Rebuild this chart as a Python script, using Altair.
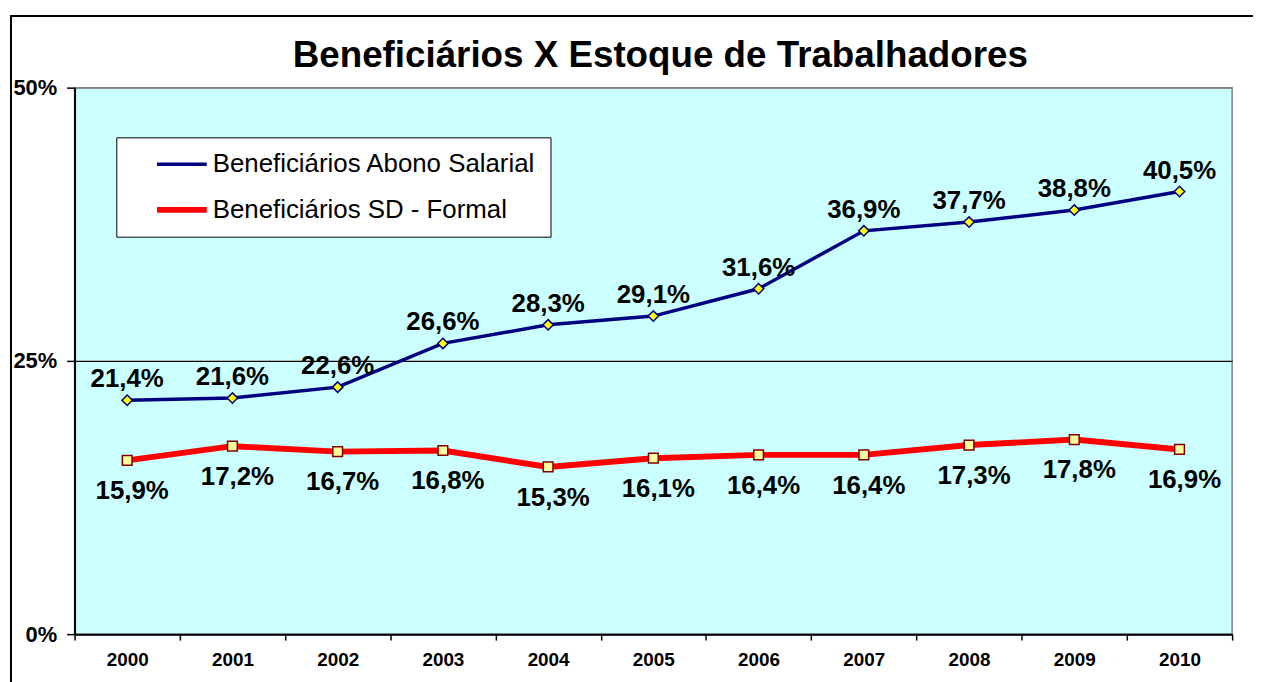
import altair as alt
import pandas as pd

FONT = "Liberation Sans"

years = ["2000", "2001", "2002", "2003", "2004", "2005", "2006", "2007", "2008", "2009", "2010"]
abono = [21.4, 21.6, 22.6, 26.6, 28.3, 29.1, 31.6, 36.9, 37.7, 38.8, 40.5]
sd_formal = [15.9, 17.2, 16.7, 16.8, 15.3, 16.1, 16.4, 16.4, 17.3, 17.8, 16.9]
series_names = ["Beneficiários Abono Salarial", "Beneficiários SD - Formal"]
series_colors = ["#000080", "#FF0000"]

df = pd.DataFrame({
    "ano": years * 2,
    "serie": [series_names[0]] * len(years) + [series_names[1]] * len(years),
    "valor": abono + sd_formal,
})

frame_df = pd.DataFrame({"k": [0]})

x = alt.X(
    "ano:O",
    scale=alt.Scale(type="band", paddingInner=0, paddingOuter=0),
    axis=alt.Axis(
        title=None, labelAngle=0, labelFont=FONT, labelFontSize=19,
        labelFontWeight="bold", labelColor="black", labelPadding=11,
        tickBand="extent", tickSize=6, tickColor="black", tickWidth=1.5,
        domainColor="black", domainWidth=2, grid=False,
    ),
)
y = alt.Y(
    "valor:Q",
    scale=alt.Scale(domain=[0, 50], nice=False),
    axis=alt.Axis(
        title=None, values=[0, 25, 50], labelExpr="datum.value + '%'",
        labelFont=FONT, labelFontSize=22, labelFontWeight="bold",
        labelColor="black", labelPadding=10, tickSize=8, tickColor="black",
        tickWidth=1.5, domainColor="black", domainWidth=2, grid=True,
        gridColor={"condition": {"test": "datum.value == 25", "value": "black"}, "value": "#808080"},
        gridWidth=1.2,
    ),
)

base = alt.Chart(df)

frame = alt.Chart(frame_df).mark_rect(fill=None, stroke="black", strokeWidth=2).encode(
    x=alt.value(-64), x2=alt.value(1400), y=alt.value(-72), y2=alt.value(800)
)

lines = base.mark_line().encode(
    x=x, y=y,
    color=alt.Color(
        "serie:N",
        scale=alt.Scale(domain=series_names, range=series_colors),
        legend=alt.Legend(
            title=None, orient="none", legendX=42, legendY=50,
            symbolType="M-5,0H5", symbolSize=100, symbolStrokeWidth=5,
            symbolOffset=39, labelOffset=18, labelFont=FONT, labelFontSize=26,
            labelColor="black", padding=14, rowPadding=20,
            fillColor="white", strokeColor="black", labelLimit=600,
        ),
    ),
    strokeWidth=alt.StrokeWidth(
        "serie:N", scale=alt.Scale(domain=series_names, range=[3.5, 6]), legend=None
    ),
)

pts_abono = base.transform_filter(alt.datum.serie == series_names[0]).mark_point(
    shape="diamond", size=110, filled=True, fill="#FFFF00", stroke="#000080",
    strokeWidth=1.5, opacity=1,
).encode(x=x, y=y)

pts_sd = base.transform_filter(alt.datum.serie == series_names[1]).mark_point(
    shape="square", size=95, filled=True, fill="#FFFF99", stroke="#800000",
    strokeWidth=1.5, opacity=1,
).encode(x=x, y=y)

label_expr = "replace(format(datum.valor, '.1f'), '.', ',') + '%'"

txt_abono = base.transform_filter(alt.datum.serie == series_names[0]).transform_calculate(
    label=label_expr
).mark_text(
    font=FONT, fontSize=26, fontWeight="bold", color="black",
    baseline="alphabetic", dy=-13,
).encode(x=x, y=y, text="label:N")

txt_sd = base.transform_filter(alt.datum.serie == series_names[1]).transform_calculate(
    label=label_expr
).mark_text(
    font=FONT, fontSize=26, fontWeight="bold", color="black",
    baseline="alphabetic", dy=39, dx=5,
).encode(x=x, y=y, text="label:N")

chart = alt.layer(frame, lines, pts_abono, pts_sd, txt_abono, txt_sd).properties(
    width=1165,
    height=550,
    autosize=alt.AutoSizeParams(type="none"),
    padding={"left": 67, "top": 78, "right": 21, "bottom": 46},
    background="white",
    title=alt.Title(
        "Beneficiários X Estoque de Trabalhadores", font=FONT, fontSize=37,
        fontWeight="bold", color="black", anchor="middle", frame="group",
        baseline="alphabetic", offset=-89, dx=7,
    ),
).configure_view(fill="#CCFFFF", stroke="#808080", strokeWidth=1.5)

chart.save("out.html", embed_options={"renderer": "svg", "actions": False})
